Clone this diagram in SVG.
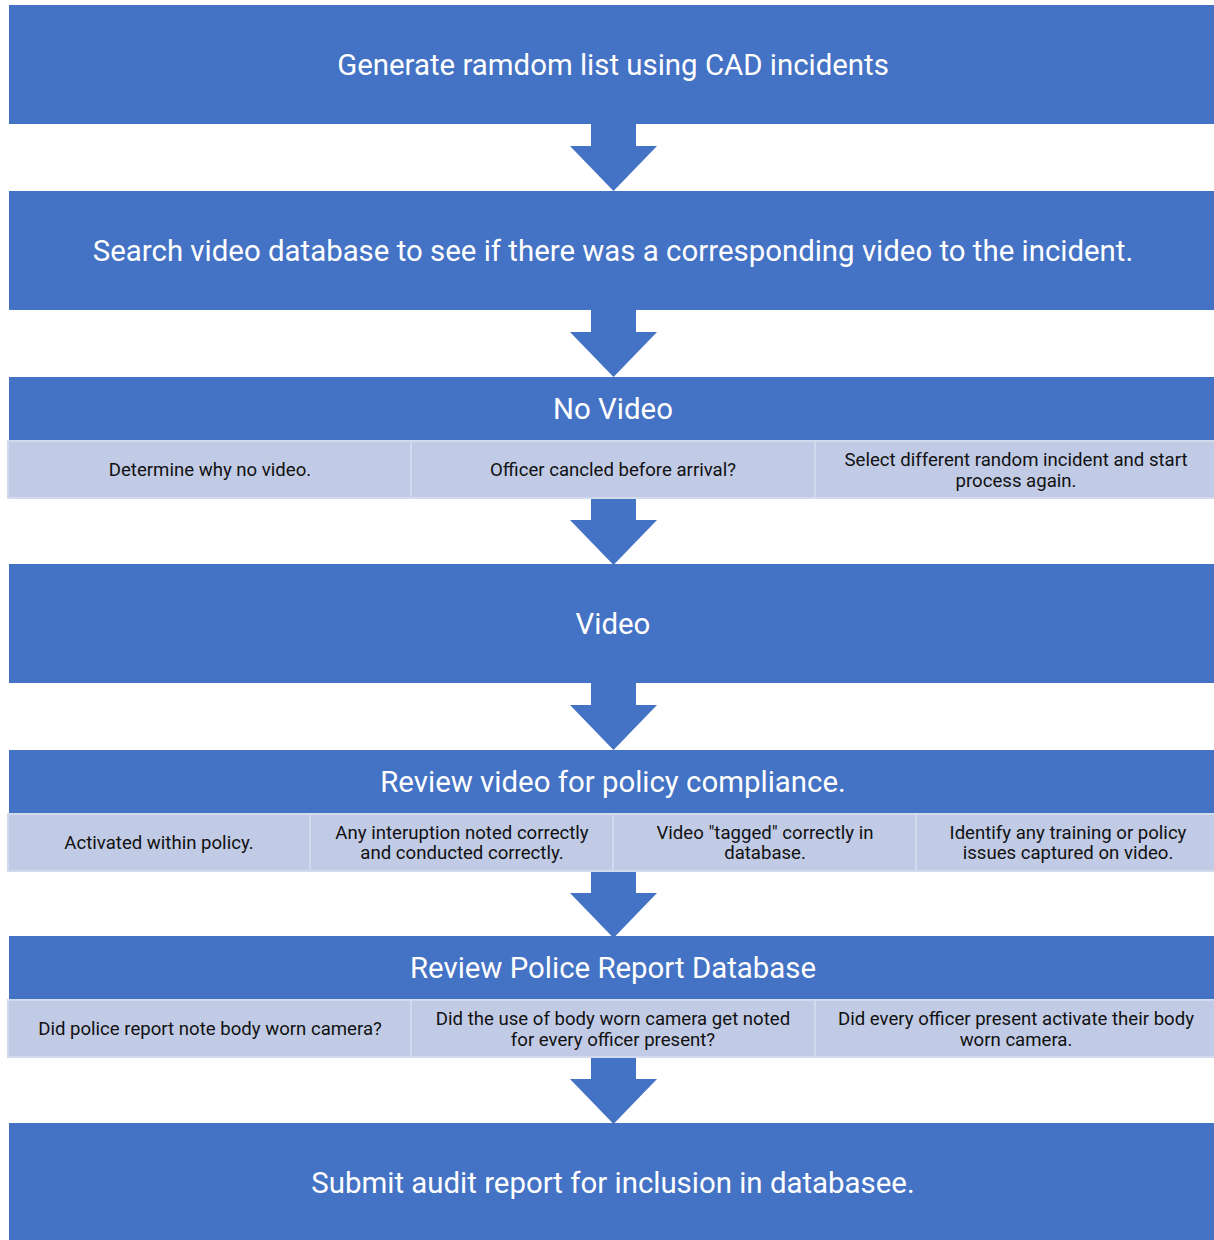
<svg xmlns="http://www.w3.org/2000/svg" width="1214" height="1240" viewBox="0 0 1214 1240">
<style>
.main{fill:#4472C4}
.sub{fill:#C1CBE6;stroke:#D3DAEE;stroke-width:2}
.arr{fill:#4472C4}
.ht{font-family:Roboto,"Liberation Sans",sans-serif;font-size:29.4px;fill:#FFFFFF;text-anchor:middle;dominant-baseline:central}
.st{font-family:Roboto,"Liberation Sans",sans-serif;font-size:18.6px;fill:#111111;text-anchor:middle;dominant-baseline:central}
</style>
<defs>
<path id="arrow" d="M591,0 H636 V22 H657 L613.5,67 L570,22 H591 Z"/>
</defs>
<rect width="1214" height="1240" fill="#FFFFFF"/>
<g id="connectors">
<use href="#arrow" class="arr" y="124"/>
<use href="#arrow" class="arr" y="310"/>
<use href="#arrow" class="arr" y="498"/>
<use href="#arrow" class="arr" y="683"/>
<use href="#arrow" class="arr" y="871"/>
<use href="#arrow" class="arr" y="1057"/>
</g>
<g id="n1">
<rect class="main" x="9" y="5" width="1205" height="119"/>
<text class="ht" x="613" y="65">Generate ramdom list using CAD incidents</text>
</g>
<g id="n2">
<rect class="main" x="9" y="191" width="1205" height="119"/>
<text class="ht" x="613" y="251">Search video database to see if there was a corresponding video to the incident.</text>
</g>
<g id="n3">
<rect class="main" x="9" y="377" width="1205" height="64"/>
<text class="ht" x="613" y="409">No Video</text>
<rect class="sub" x="8" y="441" width="403" height="57"/>
<rect class="sub" x="411" y="441" width="404" height="57"/>
<rect class="sub" x="815" y="441" width="400" height="57"/>
<text class="st" x="210" y="470">Determine why no video.</text>
<text class="st" x="613" y="470">Officer cancled before arrival?</text>
<text class="st" x="1016" y="460">Select different random incident and start</text>
<text class="st" x="1016" y="481">process again.</text>
</g>
<g id="n4">
<rect class="main" x="9" y="564" width="1205" height="119"/>
<text class="ht" x="613" y="624">Video</text>
</g>
<g id="n5">
<rect class="main" x="9" y="750" width="1205" height="64"/>
<text class="ht" x="613" y="782">Review video for policy compliance.</text>
<rect class="sub" x="8" y="814" width="302" height="57"/>
<rect class="sub" x="310" y="814" width="303" height="57"/>
<rect class="sub" x="613" y="814" width="303" height="57"/>
<rect class="sub" x="916" y="814" width="299" height="57"/>
<text class="st" x="159" y="843">Activated within policy.</text>
<text class="st" x="462" y="833">Any interuption noted correctly</text>
<text class="st" x="462" y="853">and conducted correctly.</text>
<text class="st" x="765" y="833">Video "tagged" correctly in</text>
<text class="st" x="765" y="853">database.</text>
<text class="st" x="1068" y="833">Identify any training or policy</text>
<text class="st" x="1068" y="853">issues captured on video.</text>
</g>
<g id="n6">
<rect class="main" x="9" y="936" width="1205" height="64"/>
<text class="ht" x="613" y="968">Review Police Report Database</text>
<rect class="sub" x="8" y="1000" width="403" height="57"/>
<rect class="sub" x="411" y="1000" width="404" height="57"/>
<rect class="sub" x="815" y="1000" width="400" height="57"/>
<text class="st" x="210" y="1029">Did police report note body worn camera?</text>
<text class="st" x="613" y="1019">Did the use of body worn camera get noted</text>
<text class="st" x="613" y="1040">for every officer present?</text>
<text class="st" x="1016" y="1019">Did every officer present activate their body</text>
<text class="st" x="1016" y="1040">worn camera.</text>
</g>
<g id="n7">
<rect class="main" x="9" y="1123" width="1205" height="117"/>
<text class="ht" x="613" y="1183">Submit audit report for inclusion in databasee.</text>
</g>
</svg>
